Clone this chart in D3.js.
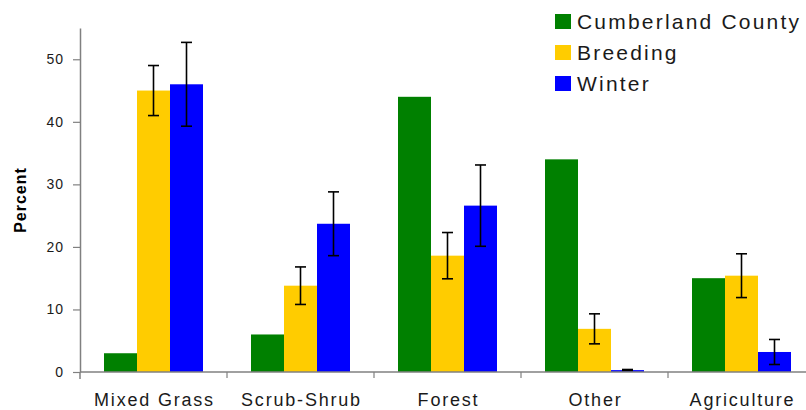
<!DOCTYPE html>
<html>
<head>
<meta charset="utf-8">
<script src="https://cdnjs.cloudflare.com/ajax/libs/d3/7.8.5/d3.min.js"></script>
<style>
  html, body { margin: 0; padding: 0; background: #fff; }
  svg { display: block; font-family: "Liberation Sans", Arial, sans-serif; }
</style>
</head>
<body>
<svg id="chart" width="806" height="410"></svg>
<script>
const categories = ["Mixed Grass", "Scrub-Shrub", "Forest", "Other", "Agriculture"];
const seriesNames = ["Cumberland County", "Breeding", "Winter"];
const colors = ["#008000", "#FFCC00", "#0000FF"];
const cumberland = [3, 6, 44, 34, 15];
const breeding = [45, 13.8, 18.6, 6.9, 15.4];
const breedingErr = [4, 3, 3.7, 2.4, 3.5];
const winter = [46, 23.7, 26.6, 0.3, 3.2];
const winterErr = [6.7, 5.1, 6.5, 0.1, 2];
const yTicks = [0, 10, 20, 30, 40, 50];

const svg = d3.select("#chart");
const x0 = 80, yZero = 372, yTop = 28;
const catW = 147;

const x = d3.scaleBand().domain(categories).range([x0, x0 + catW * categories.length]).padding(0);
const xs = d3.scaleBand().domain(seriesNames).range([24, catW - 24]).padding(0);
const y = d3.scaleLinear().domain([0, 55]).range([yZero, yTop]);

const values = [cumberland, breeding, winter];
const errs = [null, breedingErr, winterErr];

// bars
seriesNames.forEach((s, si) => {
  svg.append("g").selectAll("rect").data(categories).join("rect")
    .attr("x", c => x(c) + xs(s))
    .attr("y", (c, i) => y(values[si][i]))
    .attr("width", xs.bandwidth())
    .attr("height", (c, i) => y(0) - y(values[si][i]))
    .attr("fill", colors[si]);
});

// error bars
seriesNames.forEach((s, si) => {
  if (!errs[si]) return;
  const g = svg.append("g").attr("stroke", "#000").attr("stroke-width", 1.6);
  categories.forEach((c, i) => {
    const cx = x(c) + xs(s) + xs.bandwidth() / 2;
    const hi = y(values[si][i] + errs[si][i]);
    const lo = y(values[si][i] - errs[si][i]);
    g.append("line").attr("x1", cx).attr("x2", cx).attr("y1", hi).attr("y2", lo);
    g.append("line").attr("x1", cx - 5.5).attr("x2", cx + 5.5).attr("y1", hi).attr("y2", hi);
    g.append("line").attr("x1", cx - 5.5).attr("x2", cx + 5.5).attr("y1", lo).attr("y2", lo);
  });
});

// y axis
const yAxis = d3.axisLeft(y).tickValues(yTicks).tickSize(7).tickSizeOuter(0).tickPadding(9);
const gy = svg.append("g").attr("transform", `translate(${x0},0)`).call(yAxis);
gy.select(".domain").attr("stroke", "#808080").attr("stroke-width", 1.5);
gy.selectAll(".tick line").attr("stroke", "#808080").attr("stroke-width", 1.2);
gy.selectAll(".tick text").attr("fill", "#1a1a1a").style("font-size", "14px").style("letter-spacing", "1px")
  .style("font-family", "'Liberation Sans', Arial, sans-serif");
// extension of y axis below zero
svg.append("line").attr("x1", x0).attr("x2", x0).attr("y1", yZero).attr("y2", yZero + 7)
  .attr("stroke", "#808080").attr("stroke-width", 1.5);

// x axis
svg.append("line").attr("x1", x0).attr("x2", 806).attr("y1", yZero).attr("y2", yZero)
  .attr("stroke", "#808080").attr("stroke-width", 1.5);
svg.append("g").selectAll("line").data(categories.slice(1)).join("line")
  .attr("x1", c => x(c)).attr("x2", c => x(c))
  .attr("y1", yZero).attr("y2", yZero + 6)
  .attr("stroke", "#808080").attr("stroke-width", 1.2);
svg.append("g").selectAll("text").data(categories).join("text")
  .attr("x", c => x(c) + x.bandwidth() / 2 + 1)
  .attr("y", 406)
  .attr("text-anchor", "middle")
  .attr("fill", "#1a1a1a")
  .style("font-size", "18px")
  .style("letter-spacing", "1.8px")
  .text(c => c);

// y label
svg.append("text")
  .attr("transform", "translate(26,200) rotate(-90)")
  .attr("text-anchor", "middle")
  .attr("fill", "#000")
  .style("font-size", "16px")
  .style("font-weight", "bold")
  .style("letter-spacing", "1px")
  .text("Percent");

// legend
const legend = svg.append("g");
seriesNames.forEach((s, i) => {
  const by = 29 + i * 31;
  legend.append("rect").attr("x", 555).attr("y", by - 15).attr("width", 16).attr("height", 15).attr("fill", colors[i]);
  legend.append("text").attr("x", 577).attr("y", by)
    .attr("fill", "#1a1a1a")
    .style("font-size", "21px")
    .style("letter-spacing", "2.2px")
    .text(s);
});
</script>
</body>
</html>
